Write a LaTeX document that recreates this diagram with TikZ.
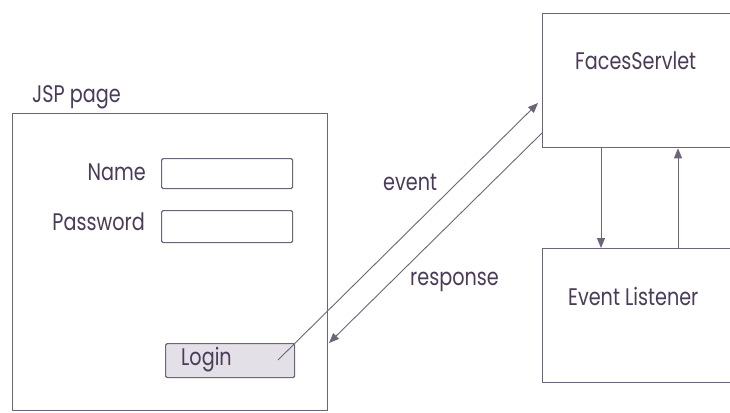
\documentclass[tikz,border=0pt]{standalone}
\usepackage{fontspec}
\setmainfont{Poppins}[FakeStretch=0.8]
\usetikzlibrary{arrows.meta}
\definecolor{inkline}{HTML}{6E6478}
\definecolor{inktext}{HTML}{4A3B58}
\definecolor{btnfill}{HTML}{E4E0E8}
\tikzset{
  frame/.style={draw=inkline, line width=1.3pt, inner sep=0pt, anchor=north west},
  field/.style={draw=inkline, line width=1.2pt, rounded corners=1.5pt, inner sep=0pt, anchor=north west},
  lbl/.style={text=inktext, font=\fontsize{24}{27}\selectfont, inner sep=0pt},
  flow/.style={draw=inkline, line width=0.9pt, -{Triangle[length=10pt,width=8pt]}},
}
\begin{document}
\begin{tikzpicture}[x=1pt,y=-1pt]
\useasboundingbox (0,0) rectangle (730,412);
\fill[white] (0,0) rectangle (730,412);
\clip (0,0) rectangle (730,412);

% JSP page with its form
\node[lbl, anchor=base west] (jspt) at (32,102) {JSP page};
\node[frame, minimum width=315pt, minimum height=297pt] (jsp) at (12,113) {};
\node[lbl, anchor=base east] (namet) at (146,180) {Name};
\node[field, minimum width=131pt, minimum height=30pt] (namef) at (161,158) {};
\node[lbl, anchor=base east] (pwdt) at (145,230) {Password};
\node[field, minimum width=131pt, minimum height=32pt] (pwdf) at (161,210) {};
\node[field, fill=btnfill, minimum width=129pt, minimum height=34pt] (login) at (165,343) {};
\node[lbl, anchor=base west] (logint) at (181,365) {Login};

% server side
\node[frame, minimum width=230pt, minimum height=134pt] (fs) at (542,13) {};
\node[lbl, anchor=base west] (fst) at (575,70) {FacesServlet};
\node[frame, minimum width=230pt, minimum height=134pt] (el) at (542,248) {};
\node[lbl, anchor=base west] (elt) at (568,305) {Event Listener};

% connectors
\coordinate (evs) at (278,360);
\coordinate (eve) at (538,103);
\coordinate (rss) at (542,133);
\coordinate (rse) at (329,343);
\draw[flow] (evs) -- (eve);
\draw[flow] (rss) -- (rse);
\draw[flow] (fs.south west -| 601,0) -- (el.north west -| 601,0);
\draw[flow] (el.north west -| 678,0) -- (fs.south west -| 678,0);

\node[lbl, anchor=base west] (evt) at (383,190) {event};
\node[lbl, anchor=base west] (rst) at (410,285) {response};
\end{tikzpicture}
\end{document}
